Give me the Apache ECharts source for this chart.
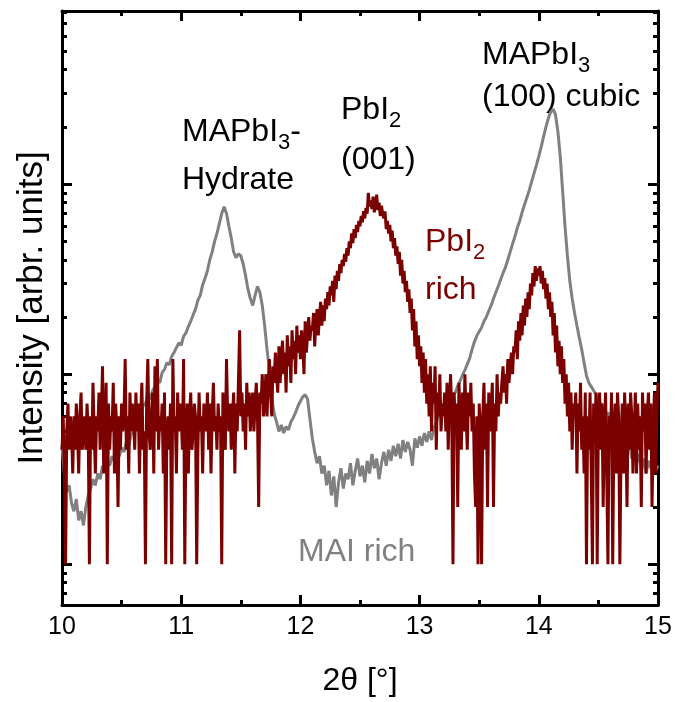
<!DOCTYPE html>
<html><head><meta charset="utf-8">
<script src="https://cdn.jsdelivr.net/npm/echarts@6/dist/echarts.min.js"></script>
<style>html,body{margin:0;padding:0;background:#fff}#c{width:678px;height:702px}</style>
</head><body><div id="c"></div>
<script>
// ---------- data ----------
const xTickValues = [10, 11, 12, 13, 14, 15];
const yMajorTicks = [1, 10, 100];
const yMinorTicks = [0.7,0.8,0.9,2,3,4,5,6,7,8,9,20,30,40,50,60,70,80,90,200,300,400,500,600,700,800];
const angleStart = 10;      // 2θ of first sample
const redStep = 0.01;       // sampling step of PbI2-rich scan
const grayStep = 0.02;      // sampling step of MAI-rich scan

// PbI2 rich (counts), 10.00 ... 15.00 in 0.01 steps
const pbi2Rich = [
4,6,3,1,5,7,4,6,5,3,
6,4,7,5,3,6,8,4,5,6,
4,7,5,1,6,4,9,5,3,6,
5,8,4,6,11,3,5,9,1,7,
4,6,5,9,3,7,5,2,6,4,
7,5,6,12,4,6,3,8,5,7,
6,4,8,5,7,3,6,9,4,5,
1,7,12,5,4,6,8,3,11,5,
12,4,6,5,7,3,8,1,5,6,
4,7,1,12,5,6,3,8,5,7,
6,4,12,1,5,7,3,6,8,4,
5,7,6,1,4,8,5,6,3,7,
6,5,8,4,7,3,6,9,5,6,
4,7,5,6,1,8,5,4,12,6,
5,7,4,6,8,3,7,5,9,17,
6,8,5,7,4,9,6,8,5,7,
8,5,7,9,6,2,8,7,10,6,
7,10,6,9,12,8,6,11,9,13,
10,8,14,9,12,15,10,13,8,16,
11,14,9,17,12,15,10,18,13,16,
12,17,14,10,19,13,16,20,15,18,
17,21,14,19,22,16,20,24,18,23,
19,25,22,27,23,29,26,31,24,33,
28,35,31,38,34,40,37,43,39,46,
42,50,46,55,49,58,52,61,56,64,
60,68,63,72,66,75,70,90,76,82,
74,86,71,79,88,73,80,68,77,70,
66,72,58,64,55,61,50,57,46,52,
42,47,38,44,33,40,30,35,27,31,
24,28,21,25,17,22,14,19,12,16,
11,14,9,13,8,12,7,10,6,11,
5,9,7,11,4,8,6,10,5,7,
6,8,5,9,4,7,10,6,1,8,
5,7,2,9,6,4,8,5,10,6,
4,8,6,9,5,7,3,2,6,1,
7,5,1,6,9,4,7,2,8,5,
6,9,2,7,5,10,6,8,7,9,
11,8,10,7,12,9,11,13,10,14,
13,17,12,19,15,21,16,23,18,25,
20,27,22,30,26,34,29,37,31,36,
33,37,30,35,28,32,25,30,22,27,
20,24,16,21,13,18,11,15,10,14,
9,12,7,10,6,9,5,8,4,7,
6,8,3,7,5,9,4,6,3,8,
1,6,4,8,3,1,7,5,8,1,
6,8,4,7,2,5,8,3,1,6,
4,8,1,5,7,3,8,6,1,4,
7,3,8,5,2,7,4,8,6,3,
5,8,3,7,4,6,2,8,5,7,
3,6,8,4,7,2,5,8,3,6,
9
];

// MAI rich, 10.00 ... 15.00 in 0.02 steps
const maiRich = [
4.2,3.0,2.4,2.6,2.1,
1.9,2.2,1.7,1.9,1.6,
2.0,2.3,2.5,2.8,2.6,
3.0,2.8,3.3,3.1,3.5,
3.3,3.7,3.5,3.9,3.7,
4.1,3.9,4.4,4.2,4.8,
5.0,5.4,5.9,6.2,6.8,
7.0,7.6,7.4,8.2,8.6,
9.3,9.0,10.2,10.6,11.5,
11.2,12.4,13.0,13.8,14.6,
14.2,15.8,16.5,17.8,19.0,
20.5,22.0,24.5,26.0,29.5,
32,35,40,44,50,
55,62,70,76,70,
60,52,44,41,43,
42,38,33,28,25,
23,26,29,27,23,
18,13.5,10.5,7.5,6.2,
5.6,5.0,5.4,4.9,5.3,
5.1,5.6,5.9,6.3,6.8,
7.2,7.6,7.8,7.4,5.8,
4.6,3.9,3.4,3.7,3.0,
3.3,2.6,3.1,2.3,2.9,
2.0,2.7,3.2,2.5,3.0,
2.8,3.4,2.6,3.1,3.6,
2.9,3.3,2.7,3.5,3.0,
3.8,3.2,3.6,2.8,3.4,
3.9,3.3,4.0,3.5,4.2,
3.7,4.3,3.6,4.5,3.9,
4.4,4.0,3.3,4.6,4.1,
4.7,4.2,4.9,4.4,5.0,
4.5,5.2,5.6,6.2,6.6,
6.9,7.2,7.0,7.6,7.9,
8.0,8.7,9.2,9.9,10.5,
11.3,12.1,13.5,14.8,15.9,
16.8,17.6,19.0,20.0,21.5,
23,25,27,29,31.5,
34,36.5,40,44,48.5,
53,59,64,71,78,
85,93,103,114,126,
140,157,178,200,222,
240,248,232,190,140,
92,60,42,31,25,
21,18,15.5,13.5,11.5,
9.8,9.0,8.6,8.2,7.8,
7.4,7.0,6.4,6.0,6.3,
5.6,5.0,5.4,4.6,4.9,
4.2,4.6,3.9,4.4,3.6,
4.1,3.4,3.8,3.1,3.6,
3.0,3.5,3.2,3.7,3.1,
3.3
];

const xAxisTitle = '2θ [°]';
const yAxisTitle = 'Intensity [arbr. units]';

// ---------- build ----------
function pairs(vals, step) {
  return vals.map((v, i) => [+(angleStart + i * step).toFixed(3), v]);
}

const FONT = '"Liberation Sans", Arial, sans-serif';
const MAIN = 32, SUB = 22, SUBDROP = 8;
const RED = '#7b0000', GRAY = '#808080';

const ctx = document.createElement('canvas').getContext('2d');
function tw(t, s) { ctx.font = s + 'px "Liberation Sans"'; return ctx.measureText(t).width; }
function label(x, base, color, parts) {
  const els = []; let cx = x;
  parts.forEach(([t, sub]) => {
    const s = sub ? SUB : MAIN;
    const b = base + (sub ? SUBDROP : 0);
    els.push({ type: 'text', x: cx, y: b - 0.31 * s, silent: true,
      style: { text: t, fontSize: s, fontFamily: FONT, fill: color, align: 'left', verticalAlign: 'middle' } });
    cx += tw(t, s);
  });
  return els;
}

const graphics = [].concat(
  label(182, 142, '#000', [['MAPbI'], ['3', 1], ['-']]),
  label(182, 190, '#000', [['Hydrate']]),
  label(341, 120, '#000', [['PbI'], ['2', 1]]),
  label(341, 170, '#000', [['(001)']]),
  label(482, 65, '#000', [['MAPbI'], ['3', 1]]),
  label(482, 107, '#000', [['(100) cubic']]),
  label(425, 252, RED, [['PbI'], ['2', 1]]),
  label(425, 300, RED, [['rich']]),
  label(298, 562, GRAY, [['MAI rich']])
);

const axisLine = { show: true, lineStyle: { color: '#000', width: 3 } };
function xAx(pos, labels) {
  return {
    type: 'value', position: pos, min: 10, max: 15, interval: 1,
    axisLine: axisLine,
    axisTick: { show: true, inside: true, length: 10, lineStyle: { color: '#000', width: 3 } },
    minorTick: { show: true, splitNumber: 2, length: 5, lineStyle: { color: '#000', width: 3 } },
    splitLine: { show: false }, minorSplitLine: { show: false },
    axisLabel: { show: labels, color: '#000', fontSize: 25, fontFamily: FONT, margin: 10,
      customValues: xTickValues },
    name: labels ? xAxisTitle : '', nameLocation: 'middle', nameGap: 60,
    nameTextStyle: { color: '#000', fontSize: 32, fontFamily: FONT }
  };
}
function yAx(pos, ticks, len, withName) {
  return {
    type: 'log', position: pos, min: 0.61, max: 815, logBase: 10,
    axisLine: withName !== null ? axisLine : { show: false },
    axisTick: { show: true, inside: true, length: len, customValues: ticks,
      lineStyle: { color: '#000', width: 3 } },
    axisLabel: { show: false }, splitLine: { show: false },
    name: withName ? yAxisTitle : '', nameLocation: 'middle', nameGap: 12,
    nameTextStyle: { color: '#000', fontSize: 35, fontFamily: FONT }
  };
}

const chart = echarts.init(document.getElementById('c'), null, { renderer: 'canvas' });
chart.setOption({
  animation: false,
  backgroundColor: '#fff',
  grid: { left: 62, right: 20, top: 11, bottom: 94, containLabel: false },
  xAxis: [xAx('bottom', true), xAx('top', false)],
  yAxis: [
    yAx('left', yMajorTicks, 10, true),
    yAx('left', yMinorTicks, 5, null),
    yAx('right', yMajorTicks, 10, false),
    yAx('right', yMinorTicks, 5, null)
  ],
  series: [
    { name: 'MAI rich', type: 'line', data: pairs(maiRich, grayStep), xAxisIndex: 0, yAxisIndex: 0,
      showSymbol: false, symbol: 'none', lineStyle: { color: GRAY, width: 3 }, z: 2 },
    { name: 'PbI2 rich', type: 'line', data: pairs(pbi2Rich, redStep), xAxisIndex: 0, yAxisIndex: 0,
      showSymbol: false, symbol: 'none', lineStyle: { color: RED, width: 3 }, z: 3 }
  ],
  graphic: graphics
});
</script>
</body></html>
